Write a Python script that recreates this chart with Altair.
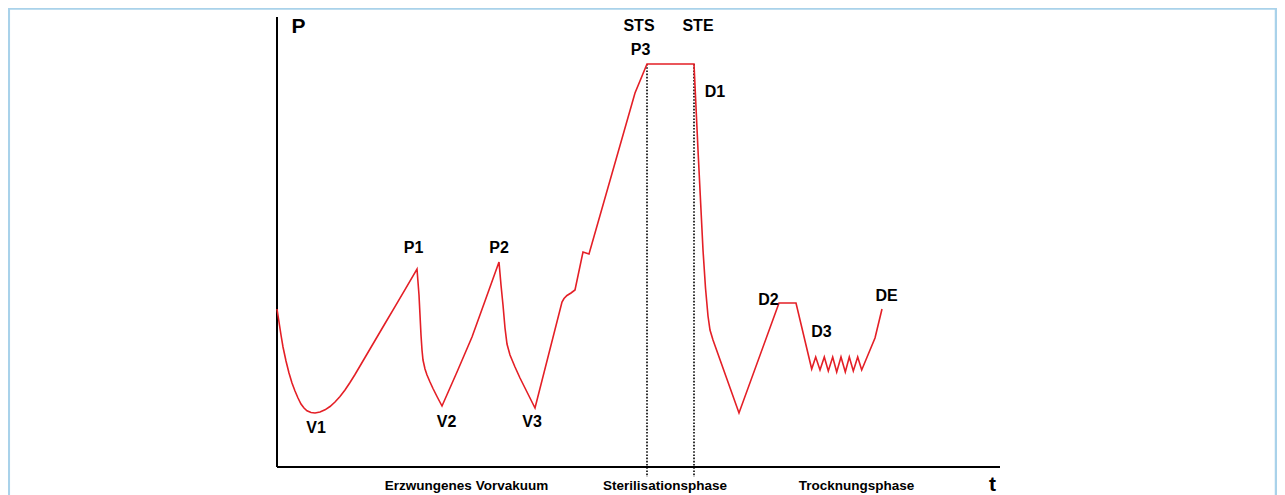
import altair as alt
import pandas as pd

# ---- data (t = time units, p = pressure units) ----
curve_t = [0, 2, 4, 6, 9, 12, 15, 18, 21, 24, 27, 30, 34, 38, 43, 48, 53, 58, 63, 68, 73, 78,
           88, 98, 108, 118, 128, 140,
           142, 143, 144, 145, 146, 148, 150, 153, 156, 160, 165,
           180, 195, 208, 222,
           224, 226, 228, 230, 233, 238, 243, 248, 253, 258,
           285, 287, 290, 294, 298, 306, 312, 358, 370,
           417,
           419, 421, 423.5, 426, 428.5, 431, 433, 436, 449, 462,
           502, 519, 534.7,
           538.7, 543, 547.3, 551.3, 555.7, 559.7, 564, 568.3, 572.3, 576.3, 580.7, 584.7,
           598, 605]
curve_p = [158, 145, 132, 120, 106, 94, 84, 76, 69, 63, 59, 56.2, 54.5, 54, 55, 57.2, 60.5, 65, 70.5, 77, 84.5, 92.5,
           109.5, 126.5, 143.5, 160.4, 177.4, 198,
           172, 152, 132, 117, 107, 98, 92, 85, 78.5, 70.5, 61,
           95, 130, 166, 205,
           182, 162, 139, 123, 112, 100, 89, 79, 69, 59,
           165, 168.5, 171.5, 174, 177, 215, 213, 374, 403,
           403,
           360, 317, 267, 217, 179, 151, 137, 127, 90.5, 54,
           164, 164, 98,
           110, 97, 110, 96, 110, 95, 110, 95, 110, 96, 110, 97,
           129, 158]

label_text = ["P", "STS", "STE", "P3", "D1", "P1", "P2", "V1", "V2", "V3", "D2", "D3", "DE"]
label_t = [21.5, 362, 421, 363.5, 438, 136.5, 222, 39, 169.5, 255, 491.5, 544.5, 609.5]
label_p = [434, 436, 436, 412, 370, 214, 214, 34, 40, 40, 162, 130, 166]
label_size = [21, 16, 16, 16, 16, 16, 16, 16, 16, 16, 16, 16, 16]

phase_text = ["Erzwungenes Vorvakuum", "Sterilisationsphase", "Trocknungsphase"]
phase_t = [189.5, 388, 579.5]
phase_p = [-22.5, -22.5, -22.5]

t_label = ["t"]
t_label_t = [715.5]
t_label_p = [-24]

# axes (origin at 0,0)
axis_t = [0, 0]
axis_t2 = [0, 723]
axis_p = [0, 0]
axis_p2 = [450, 0]

# phase markers STS / STE
marker_t = [370, 417]
marker_p_top = [403, 403]
marker_p_bottom = [-10, -10]

# frame lines
frame_t = [-268.2, -268.2, 999]
frame_t2 = [1000, -268.2, 999]
frame_p = [458.5, 459, 459]
frame_p2 = [458.5, -28, -28]

# ---- chart ----
xs = alt.Scale(domain=[-269, 1000], nice=False, zero=False)
ys = alt.Scale(domain=[-28, 459], nice=False, zero=False)

curve_df = pd.DataFrame({"t": curve_t, "p": curve_p, "i": list(range(len(curve_t)))})
label_df = pd.DataFrame({"text": label_text, "t": label_t, "p": label_p, "size": label_size})
phase_df = pd.DataFrame({"text": phase_text, "t": phase_t, "p": phase_p})
tl_df = pd.DataFrame({"text": t_label, "t": t_label_t, "p": t_label_p})
axis_df = pd.DataFrame({"t": axis_t, "t2": axis_t2, "p": axis_p, "p2": axis_p2})
marker_df = pd.DataFrame({"t": marker_t, "p": marker_p_top, "p2": marker_p_bottom})
frame_df = pd.DataFrame({"t": frame_t, "t2": frame_t2, "p": frame_p, "p2": frame_p2})

X = lambda f: alt.X(f, type="quantitative", scale=xs, axis=None)
Y = lambda f: alt.Y(f, type="quantitative", scale=ys, axis=None)

frame = alt.Chart(frame_df).mark_rule(color="#a9d2ea", strokeWidth=2.5).encode(
    x=X("t"), x2="t2", y=Y("p"), y2="p2")

axes = alt.Chart(axis_df).mark_rule(color="black", strokeWidth=2).encode(
    x=X("t"), x2="t2", y=Y("p"), y2="p2")

markers = alt.Chart(marker_df).mark_rule(color="black", strokeWidth=1.6, strokeDash=[1.6, 1.6]).encode(
    x=X("t"), y=Y("p"), y2="p2")

curve = alt.Chart(curve_df).mark_line(color="#e41f26", strokeWidth=1.6).encode(
    x=X("t"), y=Y("p"), order="i:Q")

labels = alt.Chart(label_df).mark_text(
    font="Liberation Sans", fontWeight="bold", align="center", baseline="alphabetic", color="black"
).encode(x=X("t"), y=Y("p"), text="text:N", size=alt.Size("size:Q", scale=None, legend=None))

phases = alt.Chart(phase_df).mark_text(
    font="Liberation Sans", fontWeight="bold", fontSize=13.5, align="center", baseline="alphabetic", color="black"
).encode(x=X("t"), y=Y("p"), text="text:N")

tlab = alt.Chart(tl_df).mark_text(
    font="Liberation Sans", fontWeight="bold", fontSize=21, align="center", baseline="alphabetic", color="black"
).encode(x=X("t"), y=Y("p"), text="text:N")

chart = alt.layer(frame, axes, markers, curve, labels, phases, tlab).properties(
    width=1269, height=487, padding=0,
    autosize=alt.AutoSizeParams(type="none"),
    background="white",
).configure_view(stroke=None)

chart.save("out.html", embed_options={"renderer": "svg", "actions": False})
